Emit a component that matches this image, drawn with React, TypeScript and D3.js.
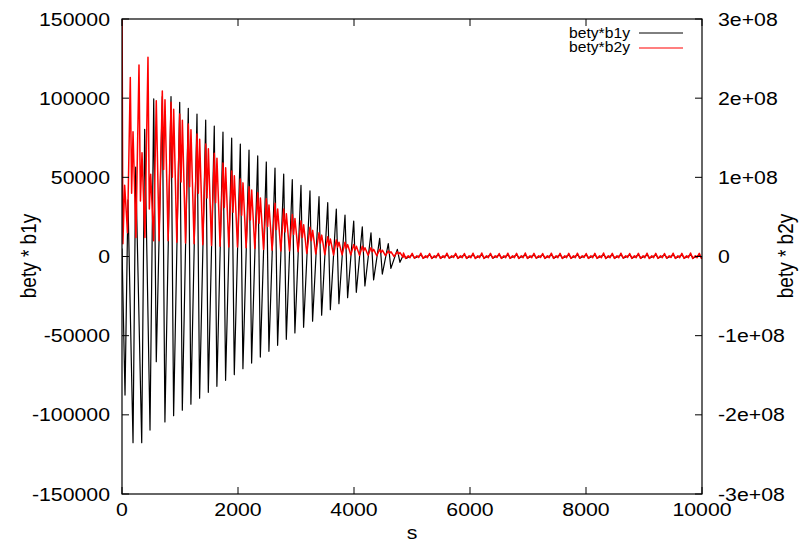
import React from 'react';
import * as d3 from 'd3';

const W = 809;
const H = 542;
const M = { left: 122, right: 702, top: 19, bottom: 494 };
const FONT = "'Liberation Sans', Arial, Helvetica, sans-serif";
const SX = 1.12;

// Axis ticks
const xTicks = [0, 2000, 4000, 6000, 8000, 10000];
const y1Ticks = [-150000, -100000, -50000, 0, 50000, 100000, 150000];
const y2Ticks = [-3e8, -2e8, -1e8, 0, 1e8, 2e8, 3e8];
const y2TickLabels = ['-3e+08', '-2e+08', '-1e+08', '0', '1e+08', '2e+08', '3e+08'];

// Insertion region (s < 700), explicit points
const insBlackS = [0, 52, 103, 190, 236, 340, 391, 483, 547, 591];
const insBlackV = [5e3, -87.5e3, 35.7e3, -117.6e3, 56.4e3, -117.6e3, 80.3e3, -109.6e3, 99.5e3, -66.4e3];
const insRedS = [0, 15, 46, 95, 143, 166, 190, 240, 293, 318, 345, 395, 448, 471, 495, 545, 591, 640];
const insRedV = [340e6, 16e6, 90e6, 30e6, 226e6, 80e6, 157.6e6, 24e6, 242e6, 70e6, 131e6, 24e6, 251.6e6, 60e6, 104e6, 20e6, 196.8e6, 20e6];

// Regular cells (position of the bety*b1y peak in each cell)
const cellS = [695, 845, 995, 1143, 1293, 1443, 1591, 1741, 1891, 2040, 2190, 2340, 2488, 2638, 2788, 2936, 3086, 3241, 3397, 3547, 3695, 3845, 3995, 4143, 4293, 4443, 4591, 4747];
const blackPeak = [101e3, 101e3, 97.4e3, 93.6e3, 90e3, 86.2e3, 82.4e3, 78.6e3, 74.8e3, 71e3, 67.2e3, 63.5e3, 59.7e3, 55.9e3, 52.1e3, 48.5e3, 45e3, 41.4e3, 37.8e3, 34e3, 30e3, 26.2e3, 22.4e3, 18.8e3, 15e3, 11.5e3, 8.1e3, 4.5e3];
const blackMin = [-104.5e3, -100.5e3, -97.1e3, -93.3e3, -89.5e3, -85.8e3, -82e3, -78.2e3, -74.6e3, -70.9e3, -67.3e3, -63.5e3, -59.9e3, -56.1e3, -52.3e3, -48.3e3, -44.7e3, -40.9e3, -37.1e3, -33.6e3, -29.8e3, -26e3, -22.6e3, -18.6e3, -14.8e3, -11.1e3, -7.5e3, -3.7e3];
const redPeak1 = [209e6, 194.8e6, 180e6, 167.4e6, 154.8e6, 142e6, 130.4e6, 118e6, 108e6, 98e6, 88e6, 80.6e6, 73e6, 67.2e6, 60e6, 53e6, 45e6, 37e6, 30e6, 25e6, 21e6, 18e6, 15e6, 13e6, 11e6, 9e6, 7e6, 6e6];
const redDip = [110e6, 100e6, 94e6, 88e6, 80e6, 74e6, 68e6, 62e6, 56e6, 52e6, 46e6, 42e6, 38e6, 34e6, 31e6, 28e6, 24e6, 20e6, 17e6, 14e6, 12e6, 10e6, 8e6, 7e6, 6e6, 5e6, 4e6, 3e6];
const redPeak2 = [198e6, 186e6, 172e6, 160e6, 148e6, 136e6, 124e6, 112e6, 102e6, 93e6, 84e6, 74e6, 65e6, 60e6, 54e6, 48e6, 40e6, 33e6, 27e6, 22e6, 18e6, 15e6, 13e6, 11e6, 9e6, 8e6, 6e6, 5e6];
const redLow = [20e6, 18e6, 17e6, 16e6, 15e6, 14e6, 13e6, 12e6, 12e6, 11e6, 10e6, 9e6, 8e6, 7e6, 7e6, 6e6, 4e6, 3.2e6, 2.4e6, 2e6, 2e6, 2e6, 1.6e6, 1.6e6, 1e6, 1e6, 0, -1e6];

// Arc region (small ripple)
const tailS = [4850, 5000, 5150, 5300, 5450, 5600, 5750, 5900, 6050, 6200, 6350, 6500, 6650, 6800, 6950, 7100, 7250, 7400, 7550, 7700, 7850, 8000, 8150, 8300, 8450, 8600, 8750, 8900, 9050, 9200, 9350, 9500, 9650, 9800, 9950];
const tailRedPeak = [4.4e6, 4e6, 4.2e6, 3.8e6, 4e6, 4.2e6, 4e6, 3.8e6, 4.2e6, 4.4e6, 4e6, 3.8e6, 4.2e6, 4e6, 4.4e6, 4e6, 3.8e6, 4.2e6, 4e6, 4e6, 4.2e6, 3.8e6, 4e6, 4.4e6, 4e6, 4.2e6, 3.8e6, 4e6, 4.2e6, 4e6, 3.8e6, 4.2e6, 4e6, 4.4e6, 4e6];
const tailRedTrough = [-2.4e6, -2.2e6, -2.4e6, -2.6e6, -2.4e6, -2.2e6, -2.4e6, -2.4e6, -2.6e6, -2.4e6, -2.2e6, -2.4e6, -2.4e6, -2.6e6, -2.4e6, -2.2e6, -2.4e6, -2.4e6, -2.6e6, -2.4e6, -2.2e6, -2.4e6, -2.4e6, -2.6e6, -2.4e6, -2.2e6, -2.4e6, -2.4e6, -2.6e6, -2.4e6, -2.2e6, -2.4e6, -2.4e6, -2.6e6, -2.4e6];
const tailRedBump = [0.8e6, 1e6, 0.8e6, 1e6, 0.8e6, 1e6, 0.8e6, 1e6, 0.8e6, 1e6, 0.8e6, 1e6, 0.8e6, 1e6, 0.8e6, 1e6, 0.8e6, 1e6, 0.8e6, 1e6, 0.8e6, 1e6, 0.8e6, 1e6, 0.8e6, 1e6, 0.8e6, 1e6, 0.8e6, 1e6, 0.8e6, 1e6, 0.8e6, 1e6, 0.8e6];
const tailBlackPeak = [1.2e3, 1e3, 1e3, 1e3, 1e3, 1e3, 1e3, 1e3, 1e3, 1e3, 1e3, 1e3, 1e3, 1e3, 1e3, 1e3, 1e3, 1e3, 1e3, 1e3, 1e3, 1e3, 1e3, 1e3, 1e3, 1e3, 1e3, 1e3, 1e3, 1e3, 1e3, 1e3, 1e3, 1e3, 1e3];
const tailBlackMin = [-1.2e3, -1e3, -1e3, -1e3, -1e3, -1e3, -1e3, -1e3, -1e3, -1e3, -1e3, -1e3, -1e3, -1e3, -1e3, -1e3, -1e3, -1e3, -1e3, -1e3, -1e3, -1e3, -1e3, -1e3, -1e3, -1e3, -1e3, -1e3, -1e3, -1e3, -1e3, -1e3, -1e3, -1e3, -1e3];

type P = [number, number];

function buildBlack(): P[] {
  const pts: P[] = [];
  insBlackS.forEach((s, i) => pts.push([s, insBlackV[i]]));
  cellS.forEach((p, i) => {
    pts.push([p, blackPeak[i]]);
    pts.push([p + 45, blackMin[i]]);
  });
  tailS.forEach((p, i) => {
    pts.push([p + 5, tailBlackPeak[i]]);
    pts.push([p + 50, tailBlackMin[i]]);
  });
  return pts;
}

function buildRed(): P[] {
  const pts: P[] = [];
  insRedS.forEach((s, i) => pts.push([s, insRedV[i]]));
  cellS.forEach((p, i) => {
    pts.push([p, redPeak1[i]]);
    pts.push([p + 23, redDip[i]]);
    pts.push([p + 46, redPeak2[i]]);
    pts.push([p + 100, redLow[i]]);
  });
  tailS.forEach((p, i) => {
    pts.push([p + 3, tailRedPeak[i]]);
    pts.push([p + 40, tailRedTrough[i]]);
    pts.push([p + 85, tailRedBump[i]]);
    pts.push([p + 115, tailRedTrough[i] * 0.6]);
  });
  return pts;
}

function Txt(props: { x: number; y: number; anchor: string; size: number; rot?: boolean; dy?: string; children: React.ReactNode }) {
  const { x, y, anchor, size, rot, dy, children } = props;
  return (
    <text
      transform={`translate(${x},${y}) scale(${SX},1)${rot ? ' rotate(-90)' : ''}`}
      textAnchor={anchor}
      fontSize={size}
      fontFamily={FONT}
      dy={dy}
      fill="#000"
    >
      {children}
    </text>
  );
}

export default function App() {
  const x = d3.scaleLinear().domain([0, 10000]).range([M.left, M.right]);
  const y1 = d3.scaleLinear().domain([-150000, 150000]).range([M.bottom, M.top]);
  const y2 = d3.scaleLinear().domain([-3e8, 3e8]).range([M.bottom, M.top]);
  const l1 = d3.line<P>().x(d => x(d[0])).y(d => y1(d[1]));
  const l2 = d3.line<P>().x(d => x(d[0])).y(d => y2(d[1]));
  const black = buildBlack();
  const red = buildRed();
  const TL = 7;
  const fs = 19;

  return (
    <svg width={W} height={H} style={{ position: 'absolute', left: 0, top: 0, background: '#fff' }}>
      <defs>
        <clipPath id="plot">
          <rect x={M.left} y={M.top} width={M.right - M.left} height={M.bottom - M.top} />
        </clipPath>
      </defs>
      <rect x={0} y={0} width={W} height={H} fill="#fff" />
      <g clipPath="url(#plot)">
        <path d={l1(black) || ''} fill="none" stroke="#000" strokeWidth={1.2} strokeLinejoin="round" />
        <path d={l2(red) || ''} fill="none" stroke="#ff0000" strokeWidth={1.5} strokeLinejoin="round" />
      </g>
      {/* frame */}
      <rect x={M.left} y={M.top} width={M.right - M.left} height={M.bottom - M.top} fill="none" stroke="#000" strokeWidth={1.2} />
      {/* ticks */}
      {xTicks.map(t => (
        <g key={'xt' + t}>
          <line x1={x(t)} x2={x(t)} y1={M.bottom} y2={M.bottom - TL} stroke="#000" />
          <line x1={x(t)} x2={x(t)} y1={M.top} y2={M.top + TL} stroke="#000" />
          <Txt x={x(t)} y={516} anchor="middle" size={fs}>{String(t)}</Txt>
        </g>
      ))}
      {y1Ticks.map(t => (
        <g key={'y1' + t}>
          <line x1={M.left} x2={M.left + TL} y1={y1(t)} y2={y1(t)} stroke="#000" />
          <Txt x={110} y={y1(t)} anchor="end" size={fs} dy="0.35em">{String(t)}</Txt>
        </g>
      ))}
      {y2Ticks.map((t, i) => (
        <g key={'y2' + t}>
          <line x1={M.right - TL} x2={M.right} y1={y2(t)} y2={y2(t)} stroke="#000" />
          <Txt x={718} y={y2(t)} anchor="start" size={fs} dy="0.35em">{y2TickLabels[i]}</Txt>
        </g>
      ))}
      {/* axis titles */}
      <Txt x={412} y={539} anchor="middle" size={fs}>s</Txt>
      <Txt x={29} y={256} anchor="middle" size={fs} rot dy="0.35em">bety * b1y</Txt>
      <Txt x={786} y={256} anchor="middle" size={fs} rot dy="0.35em">bety * b2y</Txt>
      {/* legend */}
      <Txt x={630} y={37.5} anchor="end" size={14}>bety*b1y</Txt>
      <line x1={639} x2={683} y1={33} y2={33} stroke="#000" strokeWidth={1} />
      <Txt x={630} y={52} anchor="end" size={14}>bety*b2y</Txt>
      <line x1={639} x2={683} y1={48} y2={48} stroke="#ff0000" strokeWidth={1.2} />
    </svg>
  );
}
